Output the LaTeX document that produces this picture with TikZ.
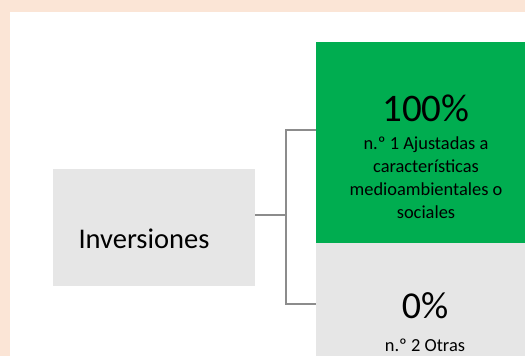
\documentclass[tikz,border=0pt]{standalone}
\usepackage{fontspec}
\setmainfont{Carlito}
\definecolor{pagebg}{HTML}{FBE5D6}
\definecolor{okgreen}{HTML}{00AD50}
\definecolor{boxgray}{HTML}{E6E6E6}
\definecolor{linkgray}{HTML}{8C8C8C}
\begin{document}
\begin{tikzpicture}[x=1pt,y=-1pt,
  block/.style={draw=none, inner sep=0pt, anchor=north west},
  label/.style={inner sep=0pt, anchor=base, text=black},
  big/.style={font=\fontsize{39}{39}\selectfont},
  small/.style={font=\fontsize{18.4}{23}\selectfont, align=center},
  link/.style={draw=linkgray, line width=1.3pt}]
\useasboundingbox (0,0) rectangle (525,356);
\clip (0,0) rectangle (525,356);
% page and panel
\fill[pagebg] (0,0) rectangle (525,356);
\fill[white] (10,12) rectangle (525,356);
% boxes
\node[block, fill=okgreen, minimum width=220pt, minimum height=201pt] (g) at (316,42) {};
\node[block, fill=boxgray, minimum width=220pt, minimum height=130pt] (o) at (316,243) {};
\node[block, fill=boxgray, minimum width=202pt, minimum height=117pt] (inv) at (53,169) {};
% texts (a multi-line label sits on the baseline of its last line)
\node[label, big] (gp) at (426,121) {100\%};
\node[label, small] (gt) at (426,218) {n.º 1 Ajustadas a\\características\\medioambientales o\\sociales};
\node[label, font=\fontsize{38}{38}\selectfont] (op) at (425,318) {0\%};
\node[label, small] (ot) at (425,351) {n.º 2 Otras};
\node[label, font=\fontsize{28.5}{28.5}\selectfont] (it) at (144,248) {Inversiones};
% connectors
\coordinate (jm) at (286,215);
\coordinate (ja) at (286,130);
\coordinate (jb) at (286,304);
\draw[link] (inv.east |- jm) -- (jm);
\draw[link] (g.west |- ja) -- (ja) -- (jb) -- (o.west |- jb);
\end{tikzpicture}
\end{document}
